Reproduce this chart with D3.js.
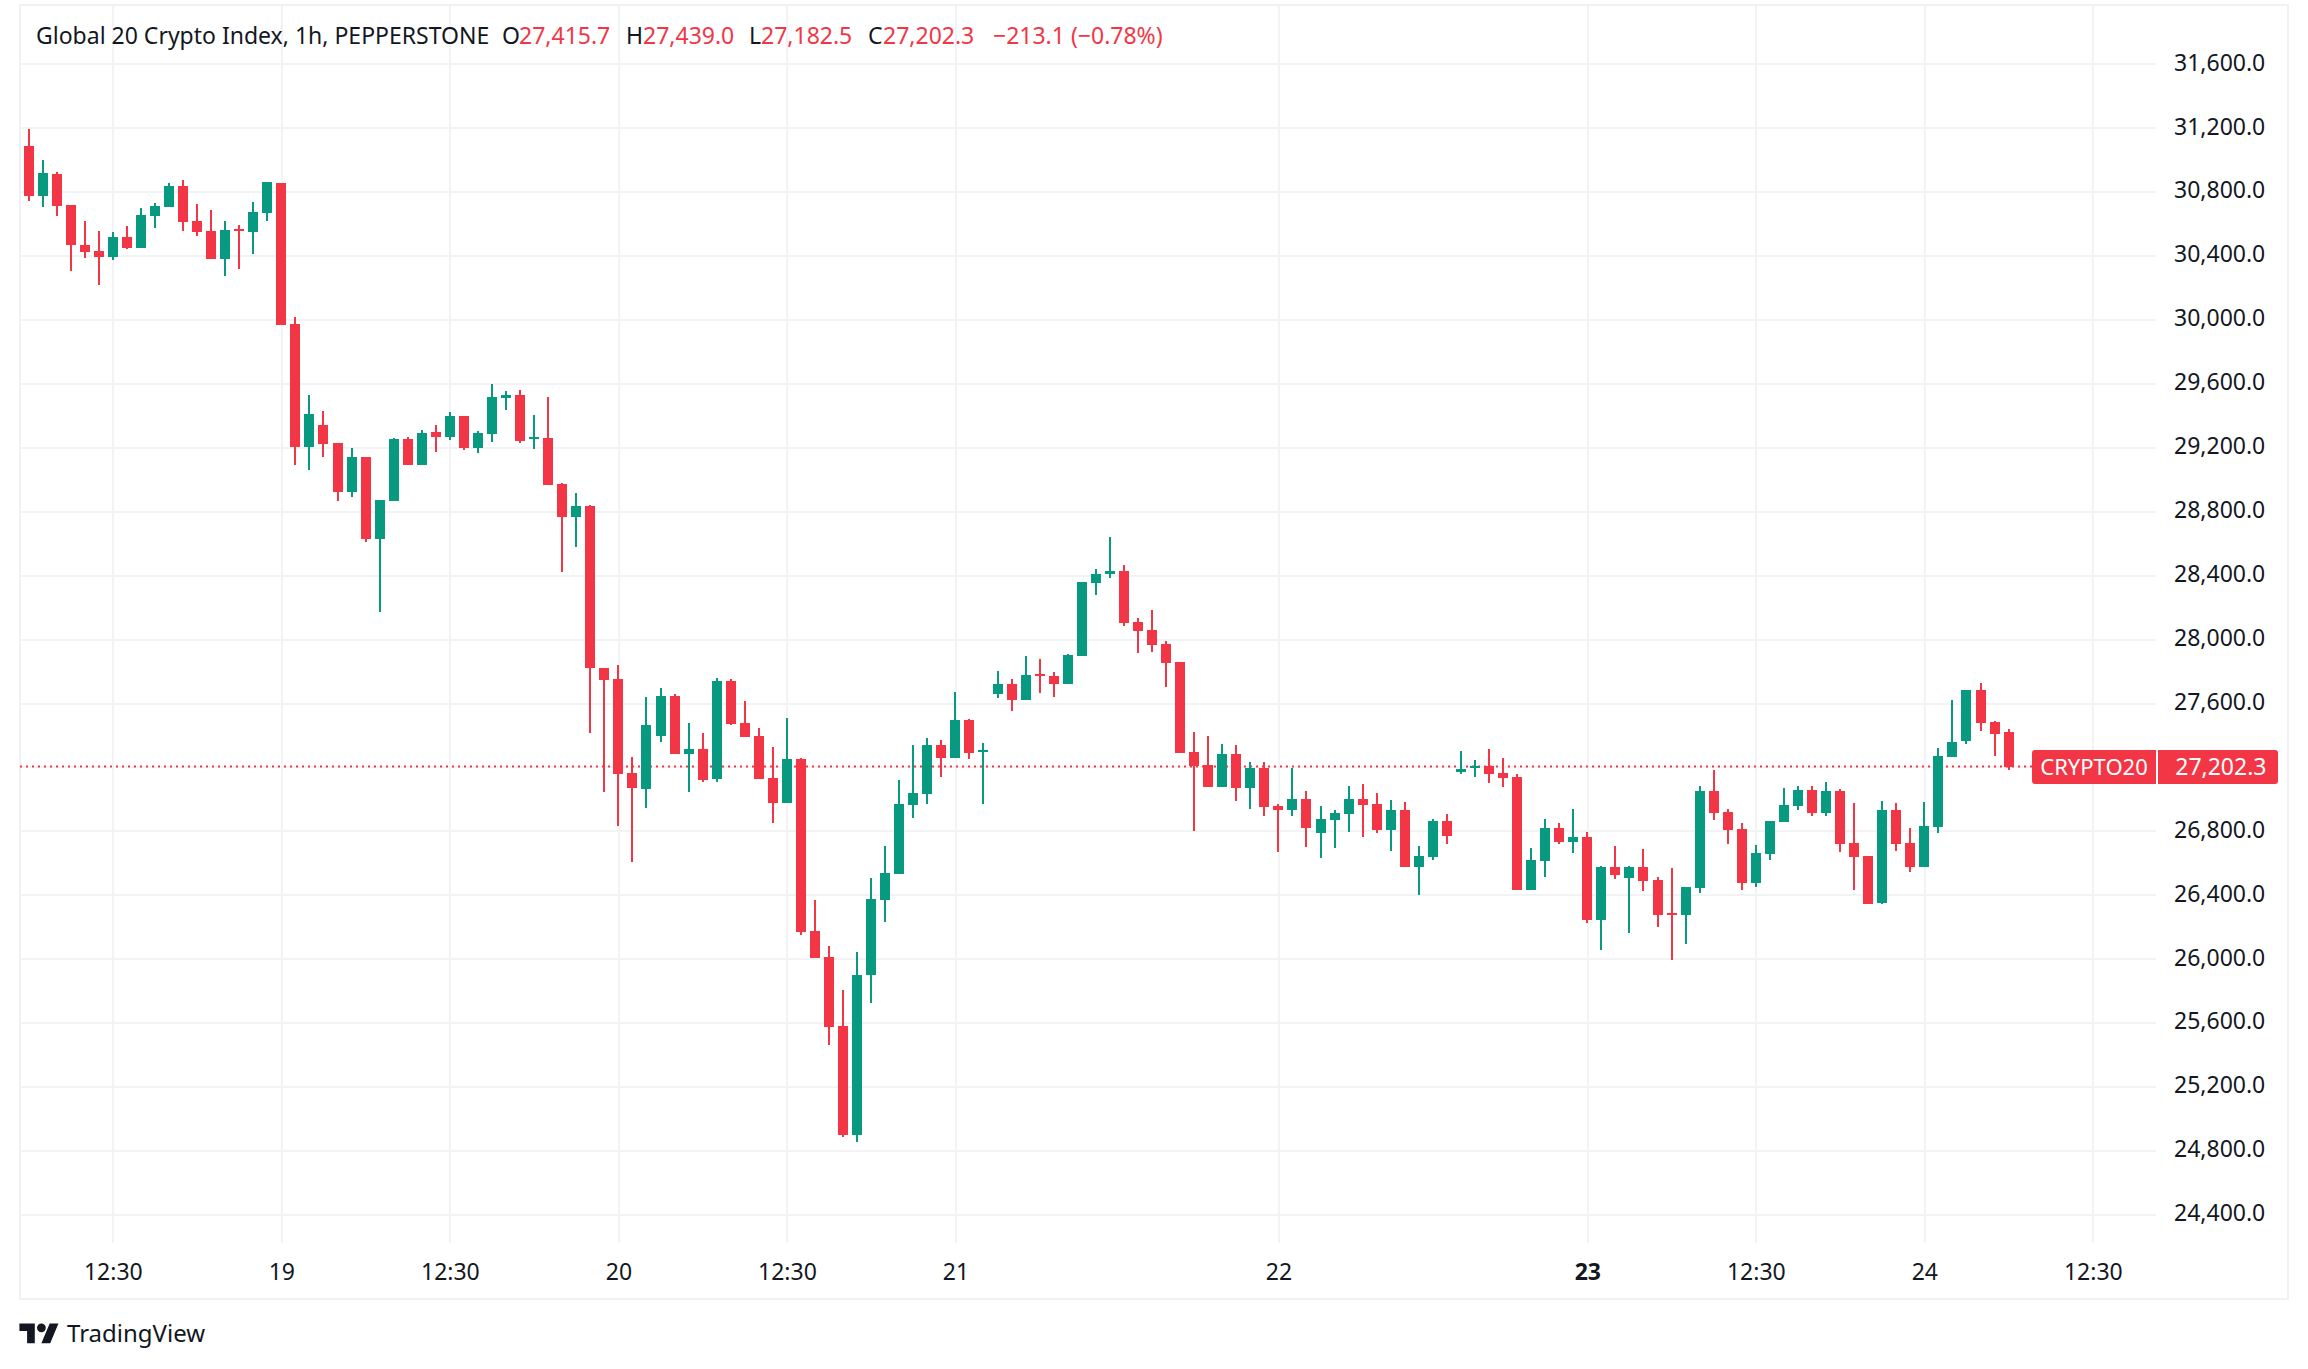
<!DOCTYPE html>
<html>
<head>
<meta charset="utf-8">
<title>Global 20 Crypto Index</title>
<script src="https://d3js.org/d3.v7.min.js"></script>
<style>
    html, body { margin: 0; padding: 0; background: #fff; }
    text { font-family: "Noto Sans", sans-serif; fill: #131722; }
    .axis .domain { display: none; }
    .axis line { stroke: #f2f3f4; stroke-width: 2; shape-rendering: crispEdges; }
    .axis text { font-size: 23px; }
</style>
</head>
<body>
<svg id="chart" width="2308" height="1369"></svg>
<script>
window.onload = function() {
    const upColor = '#089981', downColor = '#f23645';

    // open, high, low, close per hour, oldest first
    const bars = [
        [31085,31192,30741,30774],[30774,30998,30705,30916],[30910,30923,30649,30712],[30716,30716,30305,30466],
        [30466,30616,30386,30424],[30428,30553,30217,30393],[30393,30547,30374,30516],[30516,30585,30441,30447],
        [30447,30697,30447,30654],[30647,30729,30572,30710],[30704,30854,30704,30835],[30835,30873,30553,30612],
        [30616,30722,30522,30549],[30553,30685,30378,30378],[30378,30616,30272,30560],[30566,30591,30317,30553],
        [30547,30735,30409,30672],[30668,30860,30616,30860],[30854,30854,29967,29967],[29971,30015,29089,29202],
        [29202,29527,29058,29408],[29339,29427,29139,29220],[29227,29227,28864,28920],[28920,29195,28889,29139],
        [29139,29139,28607,28626],[28626,28870,28169,28870],[28864,29258,28864,29252],[29252,29264,29089,29089],
        [29089,29308,29089,29289],[29296,29339,29170,29264],[29264,29421,29245,29396],[29396,29396,29183,29195],
        [29195,29302,29164,29289],[29283,29596,29233,29515],[29508,29552,29433,29527],[29527,29558,29227,29239],
        [29252,29402,29189,29264],[29258,29515,28964,28964],[28970,28976,28419,28764],[28764,28914,28576,28832],
        [28832,28839,27412,27819],[27819,27819,27043,27744],[27750,27837,26830,27155],[27162,27262,26604,27068],
        [27061,27637,26943,27462],[27393,27693,27356,27643],[27643,27656,27280,27280],[27280,27474,27043,27312],
        [27312,27412,27105,27118],[27124,27756,27105,27737],[27737,27750,27462,27468],[27474,27612,27387,27387],
        [27393,27443,27124,27124],[27130,27324,26849,26974],[26974,27506,26974,27249],[27249,27255,26148,26166],
        [26173,26367,26004,26004],[26010,26079,25459,25572],[25578,25803,24884,24896],[24896,26041,24852,25897],
        [25897,26504,25722,26373],[26367,26705,26229,26536],[26529,27118,26529,26967],[26961,27337,26880,27036],
        [27030,27381,26967,27337],[27337,27368,27137,27255],[27255,27669,27255,27493],[27493,27499,27249,27287],
        [27293,27349,26967,27305],[27656,27800,27631,27718],[27718,27750,27550,27618],[27618,27894,27618,27775],
        [27781,27875,27662,27769],[27769,27794,27637,27718],[27718,27906,27718,27900],[27894,28357,27894,28357],
        [28351,28438,28276,28407],[28407,28638,28382,28426],[28426,28463,28081,28100],[28107,28132,27912,28050],
        [28057,28182,27919,27963],[27969,27988,27700,27850],[27856,27856,27287,27287],[27293,27418,26799,27205],
        [27212,27393,27074,27074],[27074,27343,27074,27280],[27280,27337,26986,27068],[27068,27230,26936,27193],
        [27193,27230,26892,26949],[26955,26967,26667,26930],[26930,27193,26892,26999],[26999,27049,26698,26817],
        [26786,26955,26630,26874],[26867,26930,26692,26911],[26905,27080,26792,26999],[26999,27093,26761,26961],
        [26967,27036,26786,26805],[26805,26993,26673,26930],[26930,26980,26573,26573],[26573,26705,26398,26642],
        [26636,26874,26617,26861],[26861,26905,26717,26767],[27168,27299,27155,27187],[27193,27243,27137,27205],
        [27205,27312,27099,27155],[27162,27255,27074,27130],[27137,27155,26429,26429],[26429,26692,26429,26617],
        [26611,26874,26511,26817],[26817,26849,26717,26730],[26730,26936,26661,26761],[26761,26792,26223,26242],
        [26242,26580,26054,26573],[26573,26705,26498,26523],[26504,26580,26160,26573],[26573,26686,26423,26486],
        [26492,26511,26198,26273],[26285,26567,25991,26273],[26273,26448,26091,26448],[26442,27080,26411,27049],
        [27049,27180,26867,26911],[26917,26936,26717,26805],[26811,26849,26429,26473],[26473,26711,26448,26661],
        [26655,26861,26617,26861],[26855,27068,26855,26961],[26955,27080,26930,27055],[27055,27080,26892,26911],
        [26911,27105,26892,27049],[27049,27061,26667,26717],[26724,26974,26429,26636],[26642,26642,26342,26342],
        [26348,26986,26342,26930],[26930,26974,26673,26717],[26724,26817,26542,26573],[26573,26980,26573,26830],
        [26824,27318,26786,27268],[27262,27618,27262,27356],[27362,27681,27343,27681],[27681,27725,27424,27474],
        [27481,27487,27268,27406],[27415.7,27439,27182.5,27202.3]
    ].map(([o, h, l, c], i) => ({ i, o, h, l, c }));

    const timeTicks = { 6: '12:30', 18: '19', 30: '12:30', 42: '20', 54: '12:30', 66: '21', 89: '22', 111: '23', 123: '12:30', 135: '24', 147: '12:30' };
    const priceTicks = d3.range(24400, 31601, 400);
    const lastPrice = 27202.3;

    const paneLeft = 20, paneRight = 2156, paneTop = 6, paneBottom = 1243;
    const x = d3.scaleLinear().domain([0, 141]).range([28.6, 2008.6]);
    const y = d3.scaleLinear().domain([31200, 26000]).range([127.7, 958.7]);

    const svg = d3.select('#chart');

    // outer frame
    svg.append('rect').attr('x', 20).attr('y', 5).attr('width', 2268).attr('height', 1294)
        .attr('fill', 'none').attr('stroke', '#f0f1f4').attr('stroke-width', 2).attr('shape-rendering', 'crispEdges');

    // grid comes from the axes
    const yAxis = svg.append('g').attr('class', 'axis')
        .attr('transform', `translate(${paneRight},0)`)
        .call(d3.axisRight(y).tickValues(priceTicks).tickSize(-(paneRight - paneLeft)).tickPadding(18)
            .tickFormat(d3.format(',.1f')));
    yAxis.selectAll('text').attr('y', -1);

    const xAxis = svg.append('g').attr('class', 'axis')
        .attr('transform', `translate(0,${paneBottom})`)
        .call(d3.axisBottom(x).tickValues(Object.keys(timeTicks).map(Number)).tickSize(-(paneBottom - paneTop)).tickPadding(21)
            .tickFormat(d => timeTicks[d]));
    xAxis.selectAll('text').attr('font-weight', d => d === 111 ? 700 : 400);

    // last price line
    svg.append('line').attr('x1', paneLeft).attr('x2', 2032).attr('y1', y(lastPrice)).attr('y2', y(lastPrice))
        .attr('stroke', downColor).attr('stroke-width', 2).attr('stroke-dasharray', '2 4');

    // candles
    const candle = svg.append('g').attr('shape-rendering', 'crispEdges').selectAll('g').data(bars).enter().append('g')
        .attr('fill', d => d.c >= d.o ? upColor : downColor);
    candle.append('rect')
        .attr('x', d => Math.round(x(d.i)) - 1).attr('width', 2)
        .attr('y', d => Math.round(y(d.h)))
        .attr('height', d => Math.max(1, Math.round(y(d.l)) - Math.round(y(d.h))));
    candle.append('rect')
        .attr('x', d => Math.round(x(d.i)) - 5).attr('width', 10)
        .attr('y', d => Math.round(y(Math.max(d.o, d.c))))
        .attr('height', d => Math.max(2, Math.round(y(Math.min(d.o, d.c))) - Math.round(y(Math.max(d.o, d.c)))));

    // price tag
    const tag = svg.append('g').attr('transform', `translate(0,${Math.round(y(lastPrice))})`);
    tag.append('path').attr('fill', downColor).attr('d', 'M2156,-17H2035a3,3 0 0 0 -3,3V14a3,3 0 0 0 3,3H2156Z');
    tag.append('path').attr('fill', downColor).attr('d', 'M2158,-17H2275a3,3 0 0 1 3,3V14a3,3 0 0 1 -3,3H2158Z');
    tag.append('text').attr('x', 2094).attr('y', 8).attr('text-anchor', 'middle').style('fill', '#fff').style('font-size', '22px').text('CRYPTO20');
    tag.append('text').attr('x', 2266.5).attr('y', 8).attr('text-anchor', 'end').style('fill', '#fff').style('font-size', '23px').text(d3.format(',.1f')(lastPrice));

    // legend line
    const legend = [
        [36, 'Global 20 Crypto Index, 1h, PEPPERSTONE', '#131722'],
        [502, 'O', '#131722'], [519, '27,415.7', downColor],
        [626, 'H', '#131722'], [643, '27,439.0', downColor],
        [749, 'L', '#131722'], [761, '27,182.5', downColor],
        [868, 'C', '#131722'], [883, '27,202.3', downColor],
        [993, '\u2212213.1 (\u22120.78%)', downColor]
    ];
    svg.append('g').selectAll('text').data(legend).enter().append('text')
        .attr('x', d => d[0]).attr('y', 44).style('font-size', '23px').style('fill', d => d[2]).text(d => d[1]);

    // logo and wordmark
    const logo = svg.append('g').attr('transform', 'translate(19.4,1319) scale(1.1)').attr('fill', '#131722');
    logo.append('path').attr('d', 'M14 22H7V11H0V4h14v18zM28 22h-8l7.5-18h8L28 22z');
    logo.append('circle').attr('cx', 20).attr('cy', 8).attr('r', 4);
    svg.append('text').attr('x', 67).attr('y', 1342).style('font-size', '24px').text('TradingView');
};
</script>
</body>
</html>
